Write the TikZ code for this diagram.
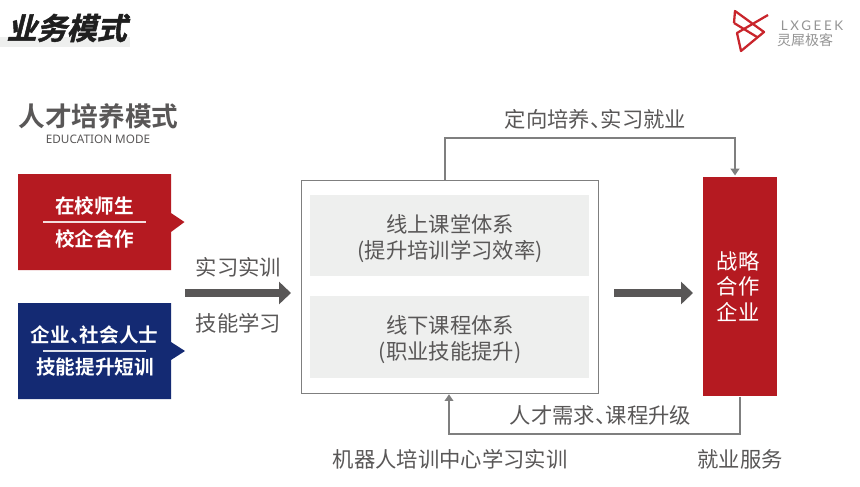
\documentclass[tikz,border=0pt]{standalone}
\usepackage{fontspec}
\setmainfont{Liberation Sans}
\newfontfamily\cjk{Noto Sans CJK SC}
\newfontfamily\cjkheavy{Noto Sans CJK SC}[BoldFont={Noto Sans CJK SC Bold},BoldFeatures={FakeBold=1.6}]
\newfontfamily\cjkb{Noto Sans CJK SC Bold}
\newfontfamily\notosans{Noto Sans}
\newfontfamily\lxfont{Lato}[LetterSpace=20]
\usetikzlibrary{arrows.meta}
\definecolor{cred}{HTML}{B51A21}
\definecolor{cblue}{HTML}{142A73}
\definecolor{cgrey}{HTML}{595757}
\definecolor{cpanel}{HTML}{EEEFEE}
\definecolor{cline}{HTML}{7F7F7F}
\definecolor{clogo}{HTML}{C9252C}
\newcommand{\dun}{、\kern-.5em }
\tikzset{
 x=0.75pt,y=-0.75pt,
 lab/.style={font=\cjk\fontsize{16}{19.5}\selectfont,text=cgrey,inner sep=0pt},
 wlab/.style={font=\cjkb\fontsize{14.7}{18}\selectfont,text=white,inner sep=0pt},
 panel/.style={fill=cpanel,draw=none,minimum width=209.25pt,anchor=north west,inner sep=0pt},
 conn/.style={draw=cline,line width=1.1pt},
 thinhead/.style={-{Triangle[length=5pt,width=6.5pt]}},
 fat/.style={draw=cgrey,line width=6.4pt,-{Triangle[length=9pt,width=16.5pt]}},
 logoline/.style={draw=clogo,line width=1.7pt,line join=round},
}
\begin{document}
\begin{tikzpicture}
\useasboundingbox (0,0) rectangle (860,486);
\fill[white] (0,0) rectangle (860,486);
% title
\fill[cpanel] (0,37) rectangle (130,46.5);
\node[font=\cjkheavy\bfseries\fontsize{22.5}{26}\selectfont,text=black!88,xslant=0.25,inner sep=0pt] (title) at (69.5,28) {业务模式};
% logo
\draw[logoline] (734,23) -- (735,11) -- (764,32) -- (741,51) -- (737,33) -- (768,15);
\draw[logoline] (734,23) -- (757,37);
\node[font=\lxfont\fontsize{10}{10}\selectfont,text=black!42,inner sep=0pt] (lx) at (812,25.5) {LXGEEK};
\node[font=\cjk\fontsize{10.5}{12}\selectfont,text=black!42,inner sep=0pt] (lxc) at (805,40.5) {灵犀极客};
% heading
\node[font=\cjkb\fontsize{20}{24}\selectfont,text=cgrey,inner sep=0pt] (head) at (98.5,116) {人才培养模式};
\node[font=\notosans\fontsize{8.8}{10}\selectfont,text=cgrey,inner sep=0pt] (headen) at (98,139.5) {EDUCATION MODE};
% left boxes
\fill[cred] (18,174) -- (171,174) -- (171,213) -- (184.5,222) -- (171,232) -- (171,270) -- (18,270) -- cycle;
\fill[cblue] (18,303) -- (171,303) -- (171,342) -- (185,351) -- (171,360) -- (171,399) -- (18,399) -- cycle;
\node[wlab] (a1) at (94.5,206) {在校师生};
\node[wlab] (a2) at (94.5,239) {校企合作};
\draw[white!85!cred,line width=0.8pt] (43,222) -- (146,222);
\node[wlab] (b1) at (94.5,335) {企业\dun 社会人士};
\node[wlab] (b2) at (95,367.5) {技能提升短训};
\draw[white!85!cblue,line width=0.8pt] (43,351) -- (146,351);
% middle labels
\node[lab] (l1) at (238.5,267) {实习实训};
\node[lab] (l2) at (238.5,323) {技能学习};
\coordinate (f1a) at (185,293); \coordinate (f1b) at (291,293);
\draw[fat] (f1a) -- (f1b);
% main frame
\node[draw=cline,line width=1.1pt,fill=white,minimum width=222.75pt,minimum height=160pt,anchor=north west,inner sep=0pt] (main) at (300.5,179.5) {};
\node[panel,minimum height=60.75pt] (p1) at (310,195) {};
\node[panel,minimum height=61.5pt] (p2) at (310,296) {};
\node[lab,align=center] (p1t) at (450,239) {线上课堂体系\\(提升培训学习效率)};
\node[lab,align=center] (p2t) at (450,339.5) {线下课程体系\\(职业技能提升)};
% right box
\node[fill=cred,minimum width=55.5pt,minimum height=164.25pt,anchor=north west,inner sep=0pt] (right) at (703,177) {};
\node[font=\cjk\fontsize{16}{19.2}\selectfont,text=white,align=center,inner sep=0pt] (rt) at (738,286.5) {战略\\合作\\企业};
\coordinate (f2a) at (614,293); \coordinate (f2b) at (693,293);
\draw[fat] (f2a) -- (f2b);
% connectors
\coordinate (c1) at (445,138); \coordinate (c2) at (735,138);
\draw[conn,thinhead,shorten >=1.2pt] (c1|-main.north) -- (c1) -- (c2) -- (c2|-right.north);
\coordinate (d1) at (740,434); \coordinate (d2) at (449,434);
\draw[conn,thinhead] (d1|-right.south) -- (d1) -- (d2) -- (d2|-main.south);
% labels
\node[lab] (t1) at (595.5,119) {定向培养\dun 实习就业};
\node[lab] (t2) at (600.5,415) {人才需求\dun 课程升级};
\node[lab] (t3) at (450,459) {机器人培训中心学习实训};
\node[lab] (t4) at (740,459) {就业服务};
\end{tikzpicture}
\end{document}
